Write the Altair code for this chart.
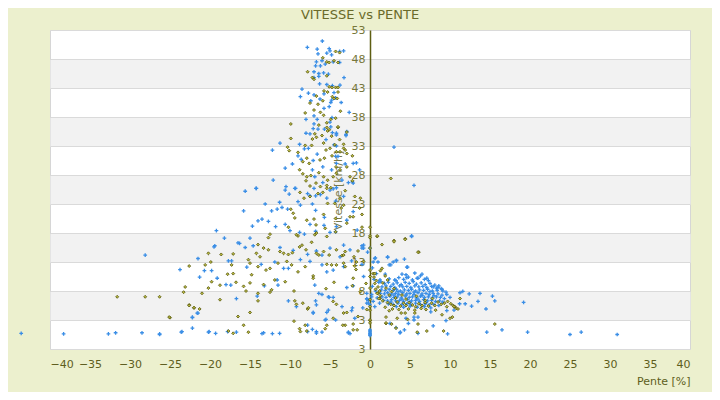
import altair as alt
import pandas as pd

TITLE = "VITESSE vs PENTE"
X_TICKS = list(range(-40, 45, 5))
Y_TICKS = [-2, 3, 8, 13, 18, 23, 28, 33, 38, 43, 48, 53]
BAND_CENTERS = [45.5, 35.5, 25.5, 15.5, 5.5]

# (pente %, vitesse km/h) – series 1 (blue crosses)
BLUE = [
    (-5.96, 51.1), (-7.83, 50.0), (-6.6, 49.7), (-5.1, 49.8), (-5.0, 49.4), (-3.8, 49.3), (-3.3, 49.4),
    (-6.5, 48.9), (-5.4, 49.0), (-4.8, 48.7), (-4.6, 47.5), (-6.7, 47.5), (-6.0, 47.7), (-5.6, 47.1),
    (-6.2, 46.8), (-6.8, 46.8), (-7.0, 45.8), (-6.4, 45.5), (-5.8, 45.6), (-6.4, 45.0), (-7.0, 44.8),
    (-5.2, 45.4), (-3.25, 44.8), (-6.3, 43.7), (-5.4, 43.6), (-3.75, 43.5), (-4.7, 43.4), (-8.5, 42.8),
    (-7.7, 42.1), (-5.75, 42.0), (-7.0, 41.8), (-4.5, 42.2), (-6.25, 41.1), (-4.8, 40.9), (-4.3, 41.3),
    (-4.9, 40.5), (-3.6, 40.5), (-5.1, 39.8), (-7.4, 40.8), (-5.75, 39.5), (-7.0, 38.2), (-4.75, 37.9),
    (-8.0, 37.6), (-2.6, 38.8), (-6.6, 37.6), (-7.0, 36.8), (-5.0, 37.1), (-7.1, 36.0), (-6.5, 35.9),
    (-5.7, 35.9), (-4.9, 36.3), (-8.0, 35.2), (-7.5, 35.1), (-4.2, 35.2), (-3.0, 34.8), (-2.9, 35.5),
    (-5.5, 34.1), (-4.5, 33.2), (-4.2, 33.0), (-8.8, 33.3), (-11.25, 33.5), (-12.2, 32.3), (-8.2, 32.5),
    (-7.7, 32.6), (-6.6, 31.6), (-4.3, 31.2), (-7.1, 30.5), (-9.0, 31.3), (-8.6, 30.7), (-9.7, 29.9),
    (-10.6, 29.2), (-4.2, 30.0), (-5.9, 29.4), (-4.8, 28.9), (-7.2, 28.9), (-6.9, 27.7), (-3.5, 27.1),
    (-2.7, 26.7), (-2.1, 26.6), (-1.7, 30.1), (-1.3, 28.9), (-12.1, 27.1), (-14.25, 25.7), (-10.5, 26.0),
    (-9.4, 25.7), (-7.0, 25.7), (-5.9, 26.7), (-3.8, 47.4), (-8.7, 41.5),
    (-15.6, 25.2), (-14.2, 25.7), (-10.6, 25.4), (-10.1, 24.7), (-9.3, 25.7), (-7.8, 24.8), (-7.5, 24.4),
    (-6.8, 24.4), (-6.2, 24.6), (-5.0, 25.4), (-4.6, 25.6), (-4.2, 25.8),
    (-13.1, 23.0), (-11.3, 23.3), (-10.3, 22.1), (-11.6, 22.1), (-11.0, 22.4), (-12.3, 21.8), (-15.8, 21.8),
    (-9.0, 23.4), (-8.7, 22.8), (-7.2, 23.0), (-6.8, 21.9), (-5.7, 20.7), (-5.4, 24.0), (-4.3, 23.5),
    (-13.5, 20.4), (-14.0, 20.1), (-12.7, 20.0), (-11.8, 19.1), (-14.7, 19.2), (-10.6, 19.5), (-10.0, 18.4),
    (-8.8, 18.1), (-8.2, 17.8), (-7.5, 19.5), (-6.8, 18.3), (-5.75, 19.3), (-5.0, 18.1), (-4.2, 19.1), (-4.3, 18.2),
    (-19.2, 18.4), (-18.2, 17.1), (-15.0, 17.1), (-16.5, 16.3), (-16.3, 16.2), (-19.4, 15.8), (-19.5, 15.6),
    (-15.6, 15.5), (-14.6, 15.8), (-11.25, 15.5), (-9.6, 15.0), (-7.8, 14.3), (-6.7, 14.9), (-6.0, 14.2),
    (-5.0, 15.4), (-3.3, 15.9), (-2.5, 15.1), (-1.0, 15.8), (-0.8, 15.4), (-3.75, 13.9),
    (-21.5, 13.6), (-17.7, 13.2), (-17.3, 13.2), (-15.4, 12.1), (-13.6, 12.6), (-11.9, 13.0), (-10.8, 11.9),
    (-10.2, 11.9), (-8.7, 13.4), (-7.5, 13.1), (-6.0, 12.5), (-5.4, 11.3), (-4.6, 11.6), (-3.3, 12.2),
    (-2.3, 13.2), (-1.0, 12.6), (-0.8, 10.5),
    (-23.75, 11.7), (-20.7, 11.5), (-19.8, 11.5), (-21.3, 10.4), (-19.1, 10.2), (-17.4, 9.0), (-18.0, 9.1),
    (-16.7, 6.7), (-11.5, 9.0), (-11.6, 9.9), (-13.2, 8.9), (-14.1, 7.1), (-6.9, 9.0), (-6.4, 7.6),
    (-6.0, 7.4), (-5.1, 6.9), (-4.6, 6.9),
    (-10.2, 6.3), (-9.2, 5.3), (-6.7, 5.6), (-7.1, 4.2), (-5.4, 4.3), (-3.5, 5.3), (-2.2, 5.1), (-0.4, 6.7), (-0.2, 5.9),
    (-22.2, 3.5), (-21.5, 4.2), (-22.2, 1.6), (-23.5, 1.0), (-16.7, 0.9), (-20.2, 0.9), (-20.1, 1.0),
    (-19.3, 0.7), (-17.8, 1.0), (-13.5, 0.65), (-13.3, 0.8), (-12.2, 0.65), (-11.3, 0.7), (-7.8, 2.1),
    (-7.2, 1.4), (-6.7, 0.75), (-6.0, 0.9), (-5.5, 3.1), (-4.3, 3.0), (-2.7, 0.9), (-2.5, 0.65), (-1.9, 3.3),
    (-4.7, 35.3), (-4.2, 34.9), (-3.0, 35.0), (-4.0, 31.2), (-3.1, 29.9), (-2.1, 30.0), (-2.2, 26.8),
    (-3.3, 24.3), (-2.1, 21.7), (-2.9, 20.2), (-1.6, 18.5), (-0.8, 15.9), (-1.0, 15.4),
    (-2.1, 8.9), (-2.9, 8.6), (-5.2, 7.0), (-6.8, 6.3), (-7.1, 4.3), (-5.2, 4.7), (-2.3, 4.6), (-0.9, 5.1),
    (-5.6, 3.0), (-7.8, 1.0), (-6.7, 1.0), (-2.7, 0.8), (-0.4, 6.6),
    (-46.25, 0.6), (-43.6, 0.7), (-38.3, 0.6), (-32.7, 0.6), (-31.8, 0.8), (-28.5, 0.8), (-26.3, 0.6),
    (-23.6, 0.9), (-22.2, 3.4), (-21.6, 4.2), (-28.1, 14.2), (-26.3, 0.5),
    (0.0, 1.3), (0.0, 1.1), (0.0, 0.9), (0.0, 0.7), (0.0, 0.5), (0.0, 0.3),
    (3.0, 32.8), (5.5, 26.2), (5.2, 17.4), (0.67, 13.7), (2.2, 13.9),
    (5.2, 17.5), (-0.3, 14.7), (0.0, 15.4), (0.6, 13.6), (1.0, 13.0), (0.4, 13.0), (2.2, 13.8), (3.3, 13.3),
    (2.9, 13.0), (2.4, 12.5), (4.3, 13.5), (4.7, 12.1), (0.8, 11.0), (1.9, 10.9), (4.0, 10.9), (6.5, 10.9),
    (6.0, 10.2), (7.1, 10.2), (4.6, 10.3), (3.25, 9.8), (1.25, 9.9), (7.9, 8.7), (8.5, 8.6), (9.0, 8.3),
    (10.0, 6.9), (11.25, 7.7), (11.6, 7.95), (12.4, 7.5), (13.75, 7.6), (15.3, 7.1), (15.6, 6.3), (19.2, 6.05),
    (13.5, 6.2), (12.7, 5.4), (11.9, 5.8), (11.2, 5.8), (10.5, 4.7), (9.6, 4.6), (7.6, 4.4), (6.0, 3.5),
    (5.5, 3.5), (4.8, 2.4), (4.3, 1.3), (3.8, 0.9), (6.0, 0.7), (7.9, 2.0), (9.7, 0.6), (14.5, 4.9),
    (14.6, 0.9), (16.5, 1.3), (19.7, 0.9), (2.5, 2.4), (2.6, 12.5), (3.3, 13.2), (4.6, 12.1), (1.3, 9.6),
    (9.5, 2.9), (4.5, 3.3), (5.5, 3.0), (3.25, 1.7), (3.75, 0.8), (25.0, 0.5), (26.4, 0.9), (30.9, 0.5),
    (-0.4, 7.6), (-0.2, 6.4), (-0.4, 5.9), (0.0, 5.6), (0.2, 7.0),
    (0.3, 12.0), (0.5, 10.0), (1.1, 9.5), (0.3, 8.8), (0.7, 8.0), (0.2, 7.4), (0.9, 6.8), (0.4, 6.2), (1.2, 5.9), (0.6, 5.3),
    (2.4, 10.1), (3.1, 9.9), (3.6, 10.3), (4.2, 10.0), (4.8, 10.4), (5.3, 9.9), (5.9, 10.2), (6.3, 10.6),
    (6.8, 10.0), (7.3, 9.8), (4.5, 10.8), (5.6, 11.1),
    (1.8, 9.3), (2.3, 9.5), (2.9, 9.2), (3.4, 9.4), (3.9, 9.1), (4.4, 9.5), (4.9, 9.3), (5.4, 9.6), (5.8, 9.2),
    (6.4, 9.4), (6.9, 9.1), (7.5, 9.3), (8.1, 9.0), (8.6, 8.9),
    (1.5, 8.7), (2.0, 8.9), (2.6, 8.8), (3.1, 8.6), (3.7, 8.9), (4.1, 8.7), (4.6, 8.8), (5.1, 8.6), (5.6, 8.9),
    (6.1, 8.7), (6.6, 8.8), (7.1, 8.6), (7.7, 8.8), (8.3, 8.5), (8.9, 8.4),
    (1.4, 8.2), (1.9, 8.1), (2.4, 8.3), (2.9, 8.1), (3.3, 8.3), (3.8, 8.0), (4.3, 8.2), (4.8, 8.1), (5.2, 8.3),
    (5.7, 8.0), (6.2, 8.2), (6.7, 8.1), (7.2, 8.3), (7.8, 8.0), (8.4, 8.1), (9.1, 8.0), (9.5, 7.8),
    (1.3, 7.6), (1.8, 7.5), (2.2, 7.7), (2.7, 7.5), (3.2, 7.6), (3.6, 7.4), (4.1, 7.7), (4.6, 7.5), (5.0, 7.6),
    (5.5, 7.4), (6.0, 7.7), (6.5, 7.5), (7.0, 7.6), (7.4, 7.4), (7.9, 7.6), (8.5, 7.5), (9.0, 7.3), (9.6, 7.4),
    (1.5, 7.0), (2.0, 6.9), (2.5, 7.1), (3.0, 6.9), (3.4, 7.0), (3.9, 6.8), (4.4, 7.1), (4.9, 6.9), (5.3, 7.0),
    (5.8, 6.8), (6.3, 7.1), (6.8, 6.9), (7.3, 7.0), (7.8, 6.8), (8.3, 7.0), (8.8, 6.9), (9.3, 6.7),
    (1.7, 6.4), (2.2, 6.3), (2.7, 6.5), (3.2, 6.3), (3.7, 6.4), (4.2, 6.2), (4.7, 6.5), (5.2, 6.3), (5.7, 6.4),
    (6.2, 6.2), (6.7, 6.5), (7.2, 6.3), (7.7, 6.4), (8.2, 6.2), (8.7, 6.3), (9.1, 6.1),
    (2.3, 5.8), (2.9, 5.7), (3.5, 5.9), (4.0, 5.7), (4.6, 5.8), (5.1, 5.6), (5.7, 5.9), (6.3, 5.7), (6.9, 5.8),
    (7.4, 5.6), (8.0, 5.7), (8.6, 5.5), (3.3, 5.3), (4.2, 5.2), (5.0, 5.4), (5.9, 5.2), (6.8, 5.3), (7.6, 5.1),
    (3.5, 7.9), (4.5, 7.3), (5.5, 7.8), (6.5, 7.2), (4.0, 6.6), (5.0, 6.1), (6.0, 6.6), (7.0, 6.0), (3.0, 7.3),
    (2.6, 6.1), (7.5, 7.9), (8.0, 7.2),
]

# series 2 (olive diamonds)
OLIVE = [
    (-5.9, 48.2), (-5.4, 47.5), (-5.1, 47.4), (-4.5, 47.7), (-4.0, 47.4), (-4.3, 49.3), (-3.8, 49.1),
    (-7.8, 45.8), (-7.2, 44.8), (-7.0, 44.5), (-5.4, 45.1), (-5.1, 43.2), (-4.75, 43.1), (-4.3, 43.1),
    (-4.0, 43.1), (-4.0, 42.3), (-5.75, 42.5), (-6.7, 41.6),
    (-5.3, 42.3), (-4.5, 41.2), (-4.1, 41.2), (-4.7, 41.5), (-7.5, 40.4), (-6.5, 40.2), (-5.9, 40.8),
    (-7.0, 39.2), (-6.2, 38.8), (-3.7, 39.0), (-8.1, 38.7),
    (-5.8, 38.3), (-4.9, 37.6), (-5.4, 37.0), (-6.4, 36.6), (-4.3, 37.8), (-4.0, 36.2), (-9.9, 36.8),
    (-5.4, 36.2), (-5.1, 35.8),
    (-6.9, 35.1), (-6.7, 34.5), (-7.2, 34.2), (-6.0, 34.8), (-5.3, 35.6), (-4.8, 34.7), (-2.9, 35.4),
    (-3.8, 34.1), (-9.9, 34.3),
    (-8.1, 33.1), (-7.3, 33.1), (-5.8, 33.5), (-5.0, 32.6), (-10.3, 32.8), (-10.1, 32.2), (-9.0, 31.9),
    (-5.5, 32.3), (-3.3, 33.3), (-3.1, 32.3),
    (-7.9, 30.9), (-7.6, 30.0), (-8.4, 30.3), (-6.25, 30.6), (-5.7, 30.9), (-4.75, 31.3), (-3.75, 32.0),
    (-2.9, 31.7), (-2.2, 31.3),
    (-8.8, 28.9), (-8.4, 28.2), (-7.9, 27.7), (-8.0, 27.0), (-7.4, 27.9), (-6.4, 28.4), (-5.8, 27.7),
    (-5.3, 27.1), (-4.6, 27.7), (-4.2, 28.3), (-3.75, 28.9), (-5.4, 26.2), (-4.9, 25.8), (-2.5, 27.7),
    (-2.2, 27.0), (-7.5, 26.1), (-6.75, 26.6), (-6.2, 26.0),
    (-8.75, 25.0), (-8.25, 24.0), (-7.5, 24.3), (-6.5, 24.8), (-5.9, 25.0), (-5.3, 23.1), (-4.4, 23.1),
    (-3.3, 22.8), (-1.9, 24.3), (-1.0, 21.2), (-5.4, 25.7), (-3.6, 22.3),
    (-9.9, 22.1), (-9.6, 21.4), (-9.4, 20.6), (-7.9, 20.2), (-7.0, 20.4), (-5.8, 21.2), (-6.75, 19.4),
    (-5.6, 18.8), (-4.3, 18.2), (-4.3, 20.5), (-2.1, 20.8), (-2.9, 19.7), (-10.2, 19.0), (-9.0, 17.5),
    (-9.2, 17.7), (-6.9, 17.7), (-6.7, 18.0), (-12.5, 17.8), (-12.7, 17.2), (-5.4, 17.4),
    (-14.0, 16.0), (-13.3, 15.4), (-12.7, 15.1), (-11.25, 14.8), (-10.8, 14.5), (-10.2, 14.3), (-9.7, 14.6),
    (-8.8, 15.6), (-8.5, 15.9), (-8.0, 15.1), (-7.3, 16.4), (-6.7, 14.5), (-6.4, 14.2), (-5.8, 14.8),
    (-5.1, 14.2), (-4.2, 15.1), (-3.5, 14.1), (-3.1, 14.8), (-2.0, 13.9), (-1.5, 14.9), (-20.2, 14.5),
    (-18.6, 14.3), (-17.1, 14.4), (-14.2, 14.5), (-13.75, 13.9),
    (-22.6, 12.3), (-20.6, 12.5), (-19.9, 13.0), (-17.3, 12.5), (-15.2, 13.4), (-15.0, 12.8), (-14.0, 12.2),
    (-13.0, 11.6), (-12.5, 11.9), (-11.5, 12.8), (-10.4, 13.1), (-9.8, 12.5), (-9.0, 11.3), (-8.1, 12.2),
    (-7.1, 10.6), (-5.4, 12.6), (-4.8, 12.5), (-4.2, 12.5), (-3.1, 12.2), (-2.2, 8.9), (-1.7, 13.0), (-3.3, 12.8),
    (-23.1, 8.7), (-23.3, 7.8), (-21.0, 7.6), (-20.2, 8.5), (-19.8, 9.6), (-18.75, 9.0), (-17.8, 10.9),
    (-17.1, 11.0), (-16.75, 9.5), (-15.8, 8.8), (-15.5, 8.0), (-14.8, 10.8), (-15.0, 9.4), (-14.0, 7.6),
    (-13.3, 9.1), (-12.5, 7.8), (-12.3, 8.2), (-11.9, 9.9), (-10.6, 9.6), (-9.5, 8.0), (-7.1, 10.2),
    (-5.5, 8.4), (-4.6, 6.2), (-4.5, 9.5),
    (-22.6, 5.6), (-22.0, 5.1), (-21.3, 4.9), (-18.75, 6.5), (-16.5, 3.6), (-15.0, 4.3), (-14.0, 6.3),
    (-9.4, 6.3), (-9.2, 5.7), (-8.4, 5.9), (-7.8, 4.9), (-7.7, 5.1), (-4.2, 5.7), (-2.9, 4.3), (-1.5, 3.6),
    (-25.0, 3.4), (-15.8, 2.1), (-17.7, 1.1), (-17.1, 0.7), (-15.2, 0.9), (-9.5, 2.8), (-8.8, 1.5),
    (-8.1, 2.1), (-8.7, 1.0), (-7.9, 1.1), (-5.4, 2.1), (-5.6, 1.5), (-3.1, 2.1), (-2.1, 2.3), (-2.1, 1.3),
    (-4.0, 36.3), (-4.4, 33.2), (-3.3, 32.6), (-4.2, 32.0), (-4.25, 29.4), (-2.9, 29.4), (-3.1, 25.3),
    (-3.75, 24.0), (-1.2, 24.0), (-1.3, 22.3), (-2.5, 20.8), (-1.0, 19.0), (-3.3, 14.2),
    (2.6, 27.4), (0.9, 17.4), (3.0, 16.7), (4.4, 17.0), (1.5, 16.0), (6.1, 14.7),
    (0.0, 19.0), (0.0, 17.5), (0.0, 17.2), (0.0, 15.4), (0.0, 11.6), (0.0, 10.5), (0.0, 8.5), (0.0, 6.5),
    (0.0, 5.3), (0.0, 4.7), (0.0, 2.9), (0.0, 2.5), (0.0, 3.0),
    (0.9, 17.5), (3.0, 16.5), (4.4, 16.9), (6.0, 14.7), (0.4, 11.0), (1.5, 11.9), (0.5, 10.4), (0.6, 9.3),
    (1.0, 7.6), (1.25, 6.7), (2.0, 3.5), (2.0, 2.4), (2.7, 2.3), (3.25, 1.6), (3.4, 3.3), (4.7, 3.1),
    (3.9, 4.2), (4.4, 4.2), (5.6, 4.2), (6.0, 2.3), (7.1, 1.1), (9.2, 1.1), (9.0, 3.9), (10.0, 3.3),
    (10.3, 3.5), (11.25, 6.7), (10.6, 5.3), (15.6, 2.3),
    (-1.9, 12.3), (-1.75, 11.7), (-0.8, 13.1), (-2.1, 10.2), (-0.5, 9.3), (-1.2, 7.9), (-3.3, 4.2),
    (-0.4, 4.8), (-1.6, 1.3), (-3.4, 2.1), (-4.6, 3.3), (5.9, 0.9), (2.0, 2.5),
    (-31.6, 7.0), (-28.1, 7.0), (-26.3, 7.0), (-25.1, 3.5), (-22.6, 5.5), (-22.0, 5.1),
    (0.8, 9.8), (1.0, 8.7), (0.7, 8.3), (1.2, 8.0), (0.9, 7.6), (1.3, 7.2), (1.1, 6.7), (1.6, 6.3),
    (0.6, 11.0), (1.3, 11.5), (1.9, 10.6), (2.2, 9.9), (1.6, 9.4),
    (2.2, 6.0), (2.6, 5.7), (3.0, 5.5), (3.4, 6.1), (3.8, 5.4), (4.2, 5.9), (4.5, 5.5), (4.9, 6.0), (5.3, 5.6),
    (5.7, 5.3), (6.1, 5.8), (6.5, 5.5), (6.9, 6.0), (7.3, 5.4), (7.7, 5.9), (8.1, 5.5), (8.5, 6.1), (8.9, 5.7),
    (9.3, 5.9), (9.7, 6.2), (10.1, 5.8), (10.4, 5.5), (9.6, 5.3), (2.8, 4.9), (3.6, 4.8), (4.8, 4.9),
    (5.6, 4.7), (6.4, 5.0), (7.0, 4.8), (8.2, 4.7), (1.9, 5.2), (2.4, 4.6),
    (3.2, 6.8), (4.5, 6.6), (5.8, 7.1), (2.7, 7.9), (6.9, 6.4), (7.8, 6.7), (4.0, 7.3), (3.0, 8.4), (2.0, 8.5),
    (2.4, 7.3), (10.5, 5.3), (10.8, 5.0), (11.0, 4.9),
]

blue_df = pd.DataFrame({"p": [a for a, b in BLUE], "v": [b for a, b in BLUE]})
olive_df = pd.DataFrame({"p": [a for a, b in OLIVE], "v": [b for a, b in OLIVE]})

FONT = "DejaVu Sans"
xscale = alt.Scale(domain=[-40, 40], nice=False, zero=False)
yscale = alt.Scale(domain=[-2, 53], nice=False, zero=False)

xaxis = alt.Axis(values=X_TICKS, domain=False, ticks=False, tickSize=0, grid=False,
                 labelFont=FONT, labelFontSize=11, labelColor="#5e5e1c", labelPadding=9,
                 title="Pente [%]", titleFont=FONT, titleFontSize=11, titleFontWeight="normal",
                 titleColor="#5e5e1c", titleAnchor="end", titleAlign="right", titleX=640, titleY=35,
                 titleBaseline="alphabetic")

band_axis = alt.Axis(orient="left", values=BAND_CENTERS, grid=True, gridColor="#f2f2f2", gridWidth=29,
                     domain=False, ticks=False, labels=False, title=None, zindex=0)

main_axis = alt.Axis(orient="left", values=Y_TICKS, offset=-320, grid=True, gridColor="#dadada",
                     gridWidth=1, domain=True, domainColor="#5e5e12", domainWidth=1.5,
                     ticks=False, tickSize=0, labelFont=FONT, labelFontSize=11, labelColor="#77773a",
                     labelPadding=5,
                     labelExpr="datum.value == -2 ? '3' : datum.label",
                     title="Vitesse [km/h]", titleFont=FONT, titleFontSize=11, titleFontWeight="normal",
                     titleColor="#7a7a4a", titleAngle=270, titleX=-29, titleY=160, titleAlign="center",
                     titleBaseline="alphabetic", zindex=0)

blue = alt.Chart(blue_df).mark_point(
    shape="M-1,0L1,0M0,-1L0,1", filled=False, color="#3a8ee6", strokeWidth=1.3, size=14, opacity=1
).encode(
    x=alt.X("p:Q", scale=xscale, axis=xaxis),
    y=alt.Y("v:Q", scale=yscale, axis=band_axis),
)

olive = alt.Chart(olive_df).mark_point(
    shape="diamond", filled=True, fill="#b8b840", stroke="#56560a", strokeWidth=0.8, size=9, opacity=1
).encode(
    x=alt.X("p:Q", scale=xscale, axis=xaxis),
    y=alt.Y("v:Q", scale=yscale, axis=main_axis),
)

chart = alt.layer(blue, olive).resolve_axis(y="independent").properties(
    width=640, height=319,
    autosize="none",
    padding={"left": 42, "top": 22, "right": 22, "bottom": 43},
    background="#ecf0ce",
    title=alt.TitleParams(TITLE, font=FONT, fontSize=13, fontWeight="normal", color="#6a6a2a",
                          anchor="middle", dx=-10, dy=6, offset=8),
).configure_view(stroke="#d6d6d6", strokeWidth=1, fill="white")

chart.save("out.html", embed_options={"renderer": "svg", "actions": False})
